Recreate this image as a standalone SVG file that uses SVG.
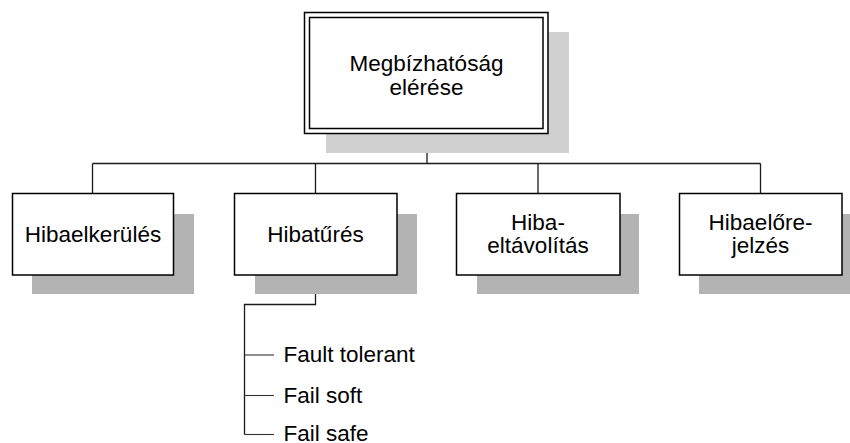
<svg xmlns="http://www.w3.org/2000/svg" width="850" height="443" viewBox="0 0 850 443">
  <style>
    .box { fill: #ffffff; stroke: #000000; stroke-width: 1.5; }
    .shadow { fill: #b3b3b3; stroke: none; }
    .shadow-light { fill: #d0d0d0; stroke: none; }
    .line { fill: none; stroke: #1a1a1a; stroke-width: 1.3; }
    .branch { fill: none; stroke: #333333; stroke-width: 1.1; }
    text { font-family: "Liberation Sans", Arial, sans-serif; font-size: 22.5px; fill: #000000; }
    .c { text-anchor: middle; }
  </style>

  <rect width="850" height="443" fill="#ffffff"/>

  <!-- connectors -->
  <g id="connectors">
    <path class="line" d="M427 133 V163.5"/>
    <path class="line" d="M92.5 163.5 H760.5"/>
    <path class="line" d="M92.5 163.5 V193"/>
    <path class="line" d="M315.5 163.5 V193"/>
    <path class="line" d="M538 163.5 V193"/>
    <path class="line" d="M760.5 163.5 V193"/>
    <!-- sub-list under Hibatűrés -->
    <path class="line" d="M315.5 275 V304.5 H244.5 V434.5"/>
    <path class="branch" d="M244.5 355 H274"/>
    <path class="branch" d="M244.5 395.5 H274"/>
    <path class="branch" d="M244.5 434.5 H274"/>
  </g>

  <!-- root node -->
  <g id="root">
    <rect class="shadow-light" x="326" y="32" width="243" height="121"/>
    <rect class="box" x="304.5" y="12.5" width="243.5" height="121"/>
    <rect class="box" x="309.5" y="17.5" width="233.5" height="111"/>
    <text class="c" x="426.5" y="71">Megbízhatóság</text>
    <text class="c" x="426.5" y="95">elérése</text>
  </g>

  <g id="hibaelkerules">
    <rect class="shadow" x="32" y="214" width="162" height="80"/>
    <rect class="box" x="12.5" y="193.5" width="161" height="81.5"/>
    <text class="c" x="93" y="242">Hibaelkerülés</text>
  </g>

  <g id="hibatures">
    <rect class="shadow" x="255" y="214" width="162" height="80"/>
    <rect class="box" x="234.5" y="193.5" width="162.5" height="81.5"/>
    <text class="c" x="315.5" y="242">Hibatűrés</text>
  </g>

  <g id="hibaeltavolitas">
    <rect class="shadow" x="477" y="214" width="162" height="80"/>
    <rect class="box" x="456.5" y="193.5" width="163.5" height="81.5"/>
    <text class="c" x="538" y="230">Hiba-</text>
    <text class="c" x="538" y="253">eltávolítás</text>
  </g>

  <g id="hibaelorejelzes">
    <rect class="shadow" x="699" y="214" width="163" height="80"/>
    <rect class="box" x="679.5" y="193.5" width="162.5" height="81.5"/>
    <text class="c" x="760.5" y="230">Hibaelőre-</text>
    <text class="c" x="760.5" y="253">jelzés</text>
  </g>

  <g id="tures-list">
    <text x="283.5" y="362">Fault tolerant</text>
    <text x="283.5" y="403">Fail soft</text>
    <text x="283.5" y="441">Fail safe</text>
  </g>
</svg>
